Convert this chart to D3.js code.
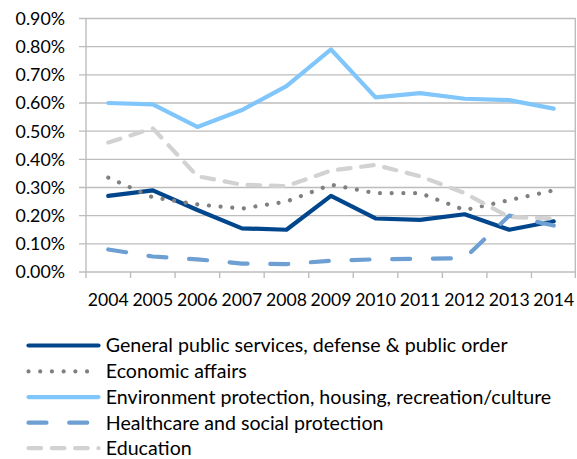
<!DOCTYPE html>
<html>
<head>
<meta charset="utf-8">
<script src="https://cdn.jsdelivr.net/npm/d3@7/dist/d3.min.js"></script>
<style>
  html, body { margin: 0; padding: 0; background: #fff; }
  svg { display: block; }
  text { font-family: Lato, "Open Sans", sans-serif; fill: #000; }
</style>
</head>
<body>
<svg id="chart" width="577" height="459"></svg>
<script>
// Public expenditure shares (% of GDP), 2004–2014
const years = ["2004","2005","2006","2007","2008","2009","2010","2011","2012","2013","2014"];
const generalPublic = [0.27, 0.29, 0.22, 0.155, 0.15, 0.27, 0.19, 0.185, 0.205, 0.15, 0.18];
const economicAffairs = [0.335, 0.265, 0.24, 0.225, 0.25, 0.31, 0.28, 0.28, 0.22, 0.255, 0.29];
const environment = [0.60, 0.595, 0.515, 0.575, 0.66, 0.79, 0.62, 0.635, 0.615, 0.61, 0.58];
const healthcare = [0.08, 0.055, 0.045, 0.03, 0.028, 0.04, 0.045, 0.047, 0.049, 0.20, 0.165];
const education = [0.46, 0.51, 0.34, 0.31, 0.305, 0.36, 0.38, 0.34, 0.28, 0.195, 0.19];
const yTicks = [0, 0.1, 0.2, 0.3, 0.4, 0.5, 0.6, 0.7, 0.8, 0.9];
const seriesNames = [
  "General public services, defense & public order",
  "Economic affairs",
  "Environment protection, housing, recreation/culture",
  "Healthcare and social protection",
  "Education"
];

const series = [
  { name: seriesNames[0], values: generalPublic,   color: "#00468c", dash: null },
  { name: seriesNames[1], values: economicAffairs, color: "#808080", dash: "0.01 11.7" },
  { name: seriesNames[2], values: environment,     color: "#80c6fa", dash: null },
  { name: seriesNames[3], values: healthcare,      color: "#6d9fd3", dash: "18 22.7" },
  { name: seriesNames[4], values: education,       color: "#d2d2d2", dash: "12.6 10.7" }
];

const svg = d3.select("#chart");
const plot = { left: 86, right: 576, top: 18.5, bottom: 272 };

const x = d3.scaleBand().domain(years).range([plot.left, plot.right]);
const y = d3.scaleLinear().domain([0, 0.9]).range([plot.bottom, plot.top]);

const fmt = d => d3.format(".2f")(d) + "%";
const gridColor = "#bdbdbd";

// horizontal gridlines (extending left as tick marks)
const grid = svg.append("g");
grid.selectAll("line.h").data(yTicks).join("line")
  .attr("x1", plot.left - 7).attr("x2", plot.right)
  .attr("y1", d => y(d)).attr("y2", d => y(d))
  .attr("stroke", gridColor).attr("stroke-width", 1.4);

// left axis line and right border
grid.append("line")
  .attr("x1", plot.left).attr("x2", plot.left)
  .attr("y1", y(0.9)).attr("y2", plot.bottom)
  .attr("stroke", gridColor).attr("stroke-width", 1.4);
grid.append("line")
  .attr("x1", plot.right - 0.7).attr("x2", plot.right - 0.7)
  .attr("y1", y(0.9)).attr("y2", plot.bottom)
  .attr("stroke", gridColor).attr("stroke-width", 1.4);

// x axis tick marks at band boundaries
const bounds = years.map(d => x(d)).concat([plot.right - 0.7]);
grid.selectAll("line.xt").data(bounds).join("line")
  .attr("x1", d => d).attr("x2", d => d)
  .attr("y1", plot.bottom).attr("y2", plot.bottom + 6)
  .attr("stroke", gridColor).attr("stroke-width", 1.4);

// y tick labels
svg.append("g").selectAll("text").data(yTicks).join("text")
  .attr("x", 65).attr("y", d => y(d))
  .attr("dy", "0.36em")
  .attr("text-anchor", "end")
  .style("font-size", "17.8px")
  .text(fmt);

// x tick labels
svg.append("g").selectAll("text").data(years).join("text")
  .attr("x", d => x(d) + x.bandwidth() / 2).attr("y", 299.5)
  .attr("dy", "0.36em")
  .attr("text-anchor", "middle")
  .style("font-size", "17.6px")
  .text(d => d);

// series lines
const line = d3.line()
  .x((d, i) => x(years[i]) + x.bandwidth() / 2)
  .y(d => y(d));

svg.append("g").selectAll("path").data(series).join("path")
  .attr("d", s => line(s.values))
  .attr("fill", "none")
  .attr("stroke", s => s.color)
  .attr("stroke-width", 4.2)
  .attr("stroke-linecap", "round")
  .attr("stroke-linejoin", "round")
  .attr("stroke-dasharray", s => s.dash);

// legend
const legendRows = [345.5, 371.4, 397.1, 422.7, 448.2];
const legend = svg.append("g").selectAll("g").data(series).join("g")
  .attr("transform", (s, i) => `translate(0,${legendRows[i]})`);
legend.append("line")
  .attr("x1", 28.5).attr("x2", 98.5).attr("y1", 0).attr("y2", 0)
  .attr("stroke", s => s.color)
  .attr("stroke-width", 4.2)
  .attr("stroke-linecap", "round")
  .attr("stroke-dasharray", s => s.dash);
legend.append("text")
  .attr("x", 105.8).attr("y", 0).attr("dy", "0.35em")
  .style("font-size", "19.6px")
  .text(s => s.name);
</script>
</body>
</html>
